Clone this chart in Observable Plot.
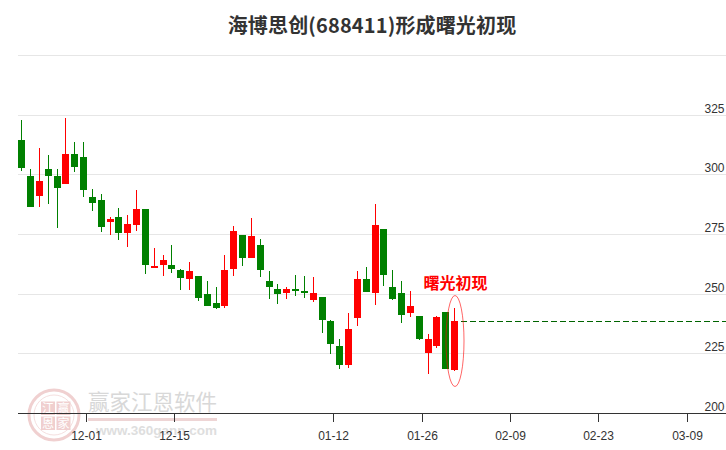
<!DOCTYPE html>
<html><head><meta charset="utf-8">
<script src="https://cdn.jsdelivr.net/npm/d3@7"></script>
<script src="https://cdn.jsdelivr.net/npm/@observablehq/plot@0.6"></script>
<style>
html,body{margin:0;padding:0;background:#fff;width:726px;height:450px;overflow:hidden}
#wrap{position:relative;width:726px;height:450px}
#title{position:absolute;left:9px;top:0;width:726px;height:40px;padding-top:12px;box-sizing:border-box;text-align:center;font:bold 20px/26px "Noto Sans CJK SC","Liberation Sans",sans-serif;letter-spacing:.15px;color:#333}
#chart{position:absolute;left:0;top:40px}
.wm{position:absolute;white-space:nowrap}
</style></head><body>
<div id="wrap">
<svg class="wm" style="left:0;top:380px" width="240" height="70">
  <circle cx="54" cy="35" r="25" fill="none" stroke="#f0d0d0" stroke-width="3"/>
  <circle cx="54" cy="35" r="20" fill="none" stroke="#f5dfdf" stroke-width="1"/>
  <rect x="41" y="21.5" width="14" height="13.5" fill="#f0cfcf"/><rect x="56.5" y="21.5" width="14" height="13.5" fill="#f0cfcf"/>
  <rect x="41" y="36.5" width="14" height="13.5" fill="#f0cfcf"/><rect x="56.5" y="36.5" width="14" height="13.5" fill="#f0cfcf"/>
  <g font-family="Noto Sans CJK SC" font-size="12" fill="#fff" text-anchor="middle">
    <text x="48" y="32.5">江</text><text x="63.5" y="32.5">赢</text><text x="48" y="47.5">恩</text><text x="63.5" y="47.5">家</text>
  </g>
  <rect x="88" y="38" width="129" height="3" fill="#eed5d5"/>
</svg>
<div class="wm" style="left:88px;top:386px;font:21.5px/30px 'Noto Sans CJK SC';color:#d8d8d8">赢家江恩软件</div>
<div class="wm" style="left:96px;top:422px;font:bold 13.5px/18px 'Liberation Sans';color:#dedede">www.360gann.com</div>
<div id="title">海博思创(688411)形成曙光初现</div>
<div id="chart"></div>
</div>
<script>
const opens  = [314.2,299.1,290.9,302.1,299.1,295.9,308.4,307.1,290.7,289.1,280.0,282.3,275.4,278.7,285.3,260.7,261.9,262.2,260.1,256.1,257.2,250.0,245.9,244.7,260.3,274.4,264.9,270.6,255.5,252.1,250.2,252.1,251.3,247.3,248.4,238.7,228.2,220.0,239.7,256.3,250.2,277.3,253.0,250.1,241.8,240.8,225.0,228.0,242.5,217.9];
const closes = [302.6,286.3,297.4,299.3,294.2,308.4,303.0,293.4,287.9,277.9,281.1,275.4,279.0,285.3,261.9,261.8,264.3,260.3,256.5,259.7,248.1,244.7,243.9,260.1,276.1,264.9,274.0,259.8,252.7,249.8,252.1,251.0,250.2,250.1,238.9,228.8,220.0,235.4,256.3,250.6,278.6,257.7,247.7,241.0,245.0,230.9,231.2,240.4,218.3,238.7];
const highs  = [322.6,302.1,310.9,307.9,302.1,323.5,313.4,313.4,293.7,291.6,282.3,286.1,282.8,293.3,285.3,269.3,266.0,270.6,260.5,263.1,257.2,255.1,253.0,266.4,278.2,274.4,281.5,273.1,259.3,254.2,253.0,258.0,257.2,256.8,248.8,239.1,231.2,242.1,259.3,261.0,287.4,277.3,260.1,255.5,251.3,240.8,232.9,240.8,242.5,244.2];
const lows   = [301.2,286.3,286.3,287.5,277.5,295.9,300.9,290.5,284.6,275.8,274.5,272.4,269.5,276.2,258.2,260.7,257.3,258.6,251.4,251.7,246.8,244.7,243.5,243.9,257.3,261.5,264.9,256.9,247.7,245.6,247.7,248.9,248.1,246.4,233.4,224.6,218.3,218.7,236.3,250.6,245.2,253.1,247.3,237.6,240.1,230.5,216.2,227.1,218.3,217.5];
const tickPos = [7.33,17.33,35.33,45.33,55.33,65.33,75.33];
const tickLabels = ["12-01","12-15","01-12","01-26","02-09","02-23","03-09"];
const gridValues = [200,225,250,275,300,325,350];
const yLabels = [200,225,250,275,300,325];
const noteText = "曙光初现";
const idx = opens.map((_, i) => i);
const last = idx.length - 1;
const col = i => closes[i] >= opens[i] ? "#ff0000" : "#008000";
const ellipseMark = (index, {x, y}) => {
  const e = document.createElementNS("http://www.w3.org/2000/svg", "ellipse");
  e.setAttribute("cx", x(last) + 1);
  e.setAttribute("cy", y(230.2));
  e.setAttribute("rx", 9);
  e.setAttribute("ry", 45.5);
  e.setAttribute("fill", "none");
  e.setAttribute("stroke", "#ff0000");
  e.setAttribute("stroke-opacity", 0.6);
  return e;
};
const plot = Plot.plot({
  width: 726, height: 410,
  marginTop: 15, marginBottom: 37, marginLeft: 18, marginRight: 0,
  style: {background: "transparent", fontFamily: "'Liberation Sans',Arial,sans-serif", fontSize: "12px"},
  x: {domain: [-0.37, 79.8], round: true},
  y: {domain: [200, 350], round: true},
  marks: [
    Plot.gridY(gridValues.slice(1), {stroke: "#e6e6e6", strokeOpacity: 1, strokeWidth: 1}),
    Plot.ruleY([200], {stroke: "#333", strokeWidth: 1}),
    Plot.ruleX(idx, {x: i => i, y1: i => lows[i], y2: i => highs[i], stroke: col, strokeWidth: 1}),
    Plot.ruleX(idx, {x: i => i, y1: i => opens[i], y2: i => closes[i], stroke: col, strokeWidth: 7}),
    Plot.ruleY([closes[last]], {x1: last + 0.75, x2: 79.8, stroke: "#006400", strokeWidth: 1, strokeDasharray: "6,3"}),
    Plot.axisX({ticks: tickPos, tickFormat: (d, i) => tickLabels[i], tickSize: 9, tickPadding: 9, stroke: "#333", fill: "#333", label: null, fontSize: 12}),
    Plot.axisY({ticks: yLabels, anchor: "right", tickSize: 0, tickPadding: -2, textAnchor: "end", dy: -6, fill: "#333", label: null, fontSize: 12}),
    Plot.text([noteText], {x: last, y: 254.6, text: d => d, dx: 1, fill: "#ff0000", fontWeight: "bold", fontSize: 16, fontFamily: "'Noto Sans CJK SC'"}),
    ellipseMark
  ]
});
document.getElementById("chart").appendChild(plot);
</script>
</body></html>
